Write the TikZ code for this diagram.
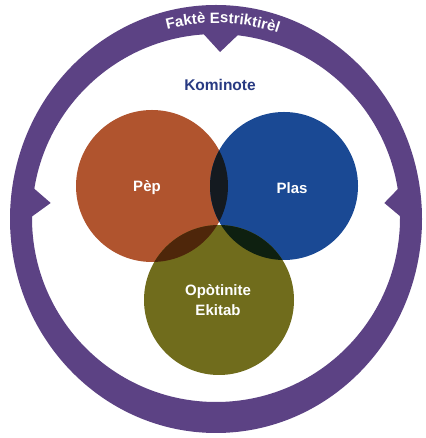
\documentclass[tikz,border=0pt]{standalone}
\usepackage{fontspec}
\setmainfont{Liberation Sans}
\usetikzlibrary{decorations.text}
\definecolor{ringpurple}{RGB}{92,66,132}
\definecolor{pepcol}{RGB}{176,84,46}
\definecolor{plascol}{RGB}{26,73,148}
\definecolor{opocol}{RGB}{112,108,28}
\definecolor{pepplas}{RGB}{20,26,32}
\definecolor{pepopo}{RGB}{78,38,10}
\definecolor{plasopo}{RGB}{14,32,16}
\definecolor{allthree}{RGB}{8,12,6}
\definecolor{komcol}{RGB}{40,58,130}
\tikzset{
  venn/.style={circle, inner sep=0pt, draw=none},
  lbl/.style={text=white, font=\fontsize{15}{20}\selectfont\bfseries, align=center},
  notch/.style={fill=ringpurple}
}
\begin{document}
\begin{tikzpicture}[x=1pt,y=1pt]
\useasboundingbox (0,0) rectangle (425,438);
\fill[white] (0,0) rectangle (425,438);
\coordinate (C) at (216,220);
% ring
\fill[ringpurple, even odd rule] (216,219) ellipse[x radius=206, y radius=214] (216,220) circle[radius=184];
% notches
\fill[notch] ([shift={(216,220)}]94.5:187) -- ([shift={(216,220)}]88.6:166) -- ([shift={(216,220)}]82.5:187) -- cycle;
\fill[notch] ([shift={(216,220)}]170.3:187) -- ([shift={(216,220)}]174.8:166) -- ([shift={(216,220)}]180.2:187) -- cycle;
\fill[notch] ([shift={(216,220)}]9.7:187) -- ([shift={(216,220)}]5.1:169) -- ([shift={(216,220)}]-0.2:187) -- cycle;
% curved title
\path[decorate, decoration={text along path, text align=center,
  text={|\fontsize{15}{15}\selectfont\bfseries\color{white}|Faktè Estriktirèl}}]
  ([shift={(216,220)}]132:195) arc[start angle=132, end angle=44, radius=195];
% circles
\node[venn, fill=pepcol, minimum size=152pt] (pep) at (152,252) {};
\node[venn, fill=plascol, minimum size=148pt] (plas) at (284,252) {};
\node[venn, fill=opocol, minimum size=150pt] (opo) at (219,138) {};
% overlaps
\begin{scope}
  \clip (152,252) circle[radius=76];
  \fill[pepplas] (284,252) circle[radius=74];
  \fill[pepopo] (219,138) circle[radius=75];
\end{scope}
\begin{scope}
  \clip (284,252) circle[radius=74];
  \fill[plasopo] (219,138) circle[radius=75];
\end{scope}
\begin{scope}
  \clip (152,252) circle[radius=76];
  \clip (284,252) circle[radius=74];
  \fill[allthree] (219,138) circle[radius=75];
\end{scope}
% labels
\node[text=komcol, font=\fontsize{15.5}{18}\selectfont\bfseries] (kom) at (220,353) {Kominote};
\node[lbl] (peplbl) at (147,250) {Pèp};
\node[lbl] (plaslbl) at (292,250) {Plas};
\node[lbl] (opolbl) at (218,138) {Opòtinite\\Ekitab};
\end{tikzpicture}
\end{document}
